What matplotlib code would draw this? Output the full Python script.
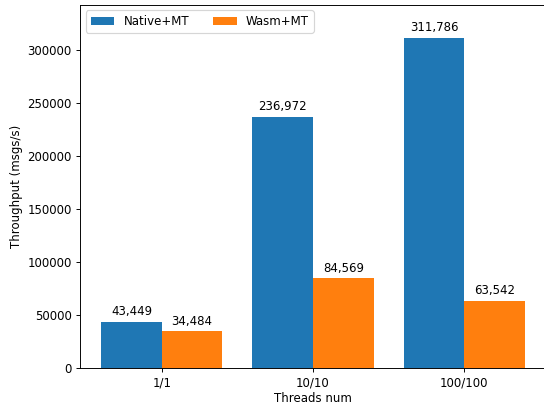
import numpy as np
import matplotlib.pyplot as plt

threads = ["1/1", "10/10", "100/100"]
native_mt = [43449, 236972, 311786]
wasm_mt = [34484, 84569, 63542]

x = np.arange(len(threads))
width = 0.4

fig, ax = plt.subplots(figsize=(544 / 85, 405 / 85), dpi=85)
b1 = ax.bar(x - width / 2, native_mt, width, label="Native+MT", color="#1f77b4")
b2 = ax.bar(x + width / 2, wasm_mt, width, label="Wasm+MT", color="#ff7f0e")

ax.bar_label(b1, labels=[f"{v:,}" for v in native_mt], padding=3)
ax.bar_label(b2, labels=[f"{v:,}" for v in wasm_mt], padding=3)

ax.set_xticks(x)
ax.set_xticklabels(threads)
ax.set_xlabel("Threads num", labelpad=2)
ax.set_ylabel("Throughput (msgs/s)")
ax.set_ylim(0, max(native_mt) * 1.1)
ax.legend(loc="upper left", ncol=2)

plt.subplots_adjust(left=80 / 544, right=546 / 544, top=1 - 4.5 / 405, bottom=1 - 368 / 405)
plt.savefig("out.png", dpi=85)
